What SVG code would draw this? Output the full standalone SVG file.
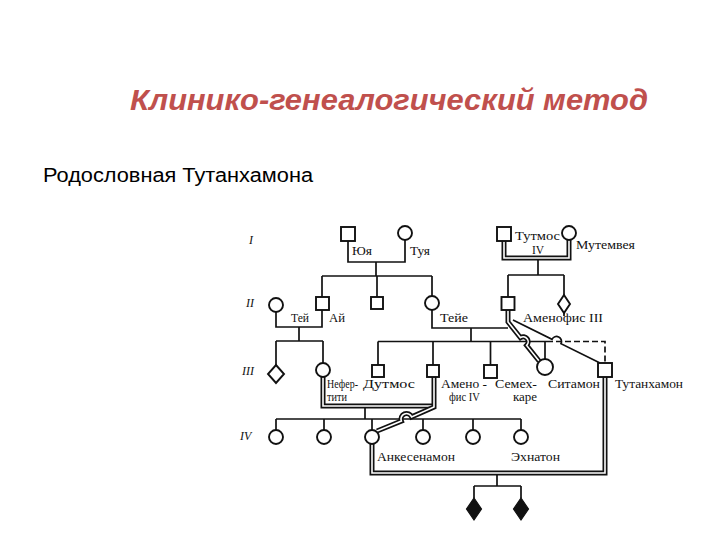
<svg xmlns="http://www.w3.org/2000/svg" xmlns:xlink="http://www.w3.org/1999/xlink" width="720" height="540" viewBox="0 0 720 540">
<style>
.ln{fill:none;stroke:#111;stroke-width:1.7}
.dash{stroke-dasharray:6 3}
.sym{fill:#fff;stroke:#111;stroke-width:1.9}
.blk{fill:#111;stroke:#111;stroke-width:1.2}
.dbo{fill:none;stroke:#111;stroke-width:5}
.dbi{fill:none;stroke:#fff;stroke-width:1.6}
.lbl{font-family:"Liberation Serif","DejaVu Serif",serif;font-size:11.5px;fill:#111}
.gen{font-family:"Liberation Serif","DejaVu Serif",serif;font-style:italic;font-size:12px;fill:#111}
.title{font-family:"Liberation Sans","Open Sans",sans-serif;font-weight:bold;font-style:italic;font-size:29px;fill:#c0504d}
.sub{font-family:"Liberation Sans","Open Sans",sans-serif;font-size:20px;fill:#000}
</style>
<defs>
<path id="d-thut" d="M504 241 V258 H569 V240"/>
<path id="d-amen3" d="M508 310 V322 L520.4 337.6 A5 5 0 0 1 526.6 345.4 L539.3 361.3"/>
<path id="d-nef" d="M323 377 V406 H436"/>
<path id="d-amen4" d="M434 377 V407 L411.6 416.9 A5.5 5.5 0 0 0 401.4 421.1 L377 431"/>
<path id="d-ankh" d="M372 444 V473 H605 V377"/>
</defs>
<rect width="720" height="540" fill="#fff"/>
<text class="title" x="130" y="110" textLength="518" lengthAdjust="spacingAndGlyphs">Клинико-генеалогический метод</text>
<text class="sub" x="43" y="182" textLength="270" lengthAdjust="spacingAndGlyphs">Родословная Тутанхамона</text>

<g id="generations">
<text class="gen" x="249" y="244">I</text>
<text class="gen" x="246" y="307">II</text>
<text class="gen" x="242" y="375">III</text>
<text class="gen" x="240" y="440">IV</text>
</g>

<g id="connectors">
<path class="ln" d="M348 241 V262 H405 V240"/>
<path class="ln" d="M376 262 V276"/>
<path class="ln" d="M322 276 H432"/>
<path class="ln" d="M322 276 V297 M377 276 V297 M432 276 V296"/>
<path class="ln" d="M276 312 V327 H322 V310"/>
<path class="ln" d="M299 327 V341 M276 341 H323 M276 341 V365 M323 341 V363"/>
<path class="ln" d="M538 258 V275 M508 275 H564 M508 275 V297 M564 275 V295 M564 313 V316"/>
<path class="ln" d="M432 310 V328 H508"/>
<path class="ln" d="M471 328 V341.5"/>
<path class="ln" d="M378 341.5 H547"/>
<path class="ln dash" d="M547 341.5 H605 V363"/>
<path class="ln" d="M378 341.5 V365 M433 341.5 V365 M490.5 341.5 V365 M545 341.5 V359"/>
<path class="ln" d="M513 320 L552 339.3 A5 5 0 0 1 561 343.7 L600 363"/>
<path class="ln" d="M365 406 V419 M276 419 H521"/>
<path class="ln" d="M276 419 V430 M324 419 V430 M372 419 V430 M423 419 V430 M473 419 V430 M521 419 V430"/>
<path class="ln" d="M497 473 V486 M474 486 H521 M474 486 V498 M521 486 V498"/>
<use xlink:href="#d-thut" class="dbo"/><use xlink:href="#d-thut" class="dbi"/>
<use xlink:href="#d-nef" class="dbo"/><use xlink:href="#d-nef" class="dbi"/>
<use xlink:href="#d-amen4" class="dbo"/><use xlink:href="#d-amen4" class="dbi"/>
<use xlink:href="#d-amen3" class="dbo"/><use xlink:href="#d-amen3" class="dbi"/>
<use xlink:href="#d-ankh" class="dbo"/><use xlink:href="#d-ankh" class="dbi"/>
</g>

<g id="yuya"><rect class="sym" x="341" y="227" width="14" height="14"/><text class="lbl" x="352" y="255" textLength="20" lengthAdjust="spacingAndGlyphs">Юя</text></g>
<g id="tuya"><circle class="sym" cx="405" cy="233" r="7"/><text class="lbl" x="410" y="255" textLength="20" lengthAdjust="spacingAndGlyphs">Туя</text></g>
<g id="thutmose4"><rect class="sym" x="497" y="227" width="14" height="14"/><text class="lbl" x="515" y="240" textLength="45" lengthAdjust="spacingAndGlyphs">Тутмос</text><text class="lbl" x="532" y="254">IV</text></g>
<g id="mutemwia"><circle class="sym" cx="569" cy="233" r="7"/><text class="lbl" x="576" y="249" textLength="59" lengthAdjust="spacingAndGlyphs">Мутемвея</text></g>

<g id="tey"><circle class="sym" cx="276" cy="305" r="7"/><text class="lbl" x="291" y="322" textLength="18" lengthAdjust="spacingAndGlyphs">Тей</text></g>
<g id="ay"><rect class="sym" x="316" y="297" width="13" height="13"/><text class="lbl" x="329" y="322" textLength="16" lengthAdjust="spacingAndGlyphs">Ай</text></g>
<g id="son2"><rect class="sym" x="371" y="297" width="12" height="12"/></g>
<g id="tiye"><circle class="sym" cx="432" cy="303" r="7"/><text class="lbl" x="440" y="322" textLength="28" lengthAdjust="spacingAndGlyphs">Тейе</text></g>
<g id="amenophis3"><rect class="sym" x="501.5" y="297" width="13" height="13"/><text class="lbl" x="523" y="322" textLength="80" lengthAdjust="spacingAndGlyphs">Аменофис III</text></g>
<g id="sib2"><polygon class="sym" points="564,295 570,304 564,313 558,304"/></g>

<g id="diamond3"><polygon class="sym" points="276,365 284,374 276,383 268,374"/></g>
<g id="nefertiti"><circle class="sym" cx="323" cy="370" r="7"/><text class="lbl" x="327" y="388" textLength="31" lengthAdjust="spacingAndGlyphs">Нефер-</text><text class="lbl" x="327" y="401" textLength="20" lengthAdjust="spacingAndGlyphs">тити</text></g>
<g id="thutmose"><rect class="sym" x="372" y="365" width="12" height="12"/><text class="lbl" x="363" y="388" textLength="52" lengthAdjust="spacingAndGlyphs">Дутмос</text></g>
<g id="amenophis4"><rect class="sym" x="427" y="365" width="12" height="12"/><text class="lbl" x="441" y="388" textLength="46" lengthAdjust="spacingAndGlyphs">Амено -</text><text class="lbl" x="449" y="401" textLength="31" lengthAdjust="spacingAndGlyphs">фис IV</text></g>
<g id="smenkhkare"><rect class="sym" x="484" y="365" width="13" height="13"/><text class="lbl" x="495" y="388" textLength="42" lengthAdjust="spacingAndGlyphs">Семех-</text><text class="lbl" x="513" y="401" textLength="24" lengthAdjust="spacingAndGlyphs">каре</text></g>
<g id="sitamun"><circle class="sym" cx="545" cy="367" r="8"/><text class="lbl" x="548" y="388" textLength="52" lengthAdjust="spacingAndGlyphs">Ситамон</text></g>
<g id="tutankhamun"><rect class="sym" x="598" y="363" width="14" height="14"/><text class="lbl" x="615" y="388" textLength="68" lengthAdjust="spacingAndGlyphs">Тутанхамон</text></g>

<g id="d1"><circle class="sym" cx="276" cy="437" r="7"/></g>
<g id="d2"><circle class="sym" cx="324" cy="437" r="7"/></g>
<g id="ankhesenamun"><circle class="sym" cx="372" cy="437" r="7"/><text class="lbl" x="377" y="461" textLength="78" lengthAdjust="spacingAndGlyphs">Анкесенамон</text></g>
<g id="d4"><circle class="sym" cx="423" cy="437" r="7"/></g>
<g id="d5"><circle class="sym" cx="473" cy="437" r="7"/></g>
<g id="akhenaten"><circle class="sym" cx="521" cy="437" r="7"/><text class="lbl" x="511" y="461" textLength="49" lengthAdjust="spacingAndGlyphs">Эхнатон</text></g>

<g id="child1"><polygon class="blk" points="474,498 481.5,509 474,520 466.5,509"/></g>
<g id="child2"><polygon class="blk" points="521,498 528.5,509 521,520 513.5,509"/></g>
</svg>
